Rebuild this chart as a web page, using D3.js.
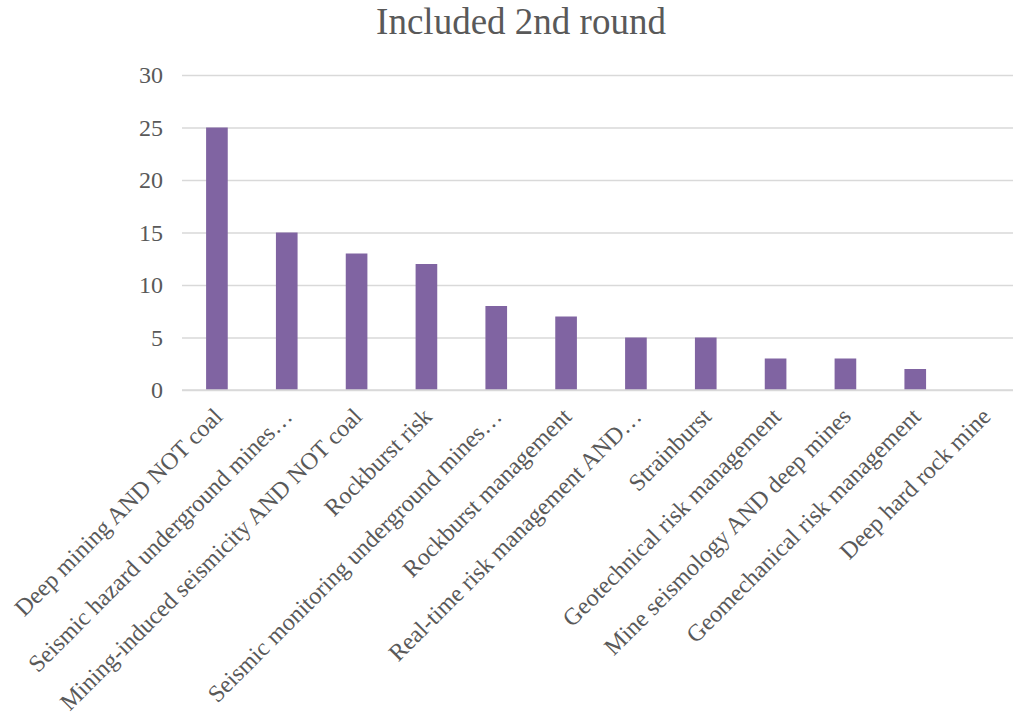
<!DOCTYPE html>
<html><head><meta charset="utf-8">
<script src="https://cdn.jsdelivr.net/npm/d3@7"></script>
<style>html,body{margin:0;padding:0;background:#fff;overflow:hidden}</style>
</head><body>
<svg id="chart" width="1013" height="715"></svg>
<script>
const categories = ["Deep mining AND NOT coal","Seismic hazard underground mines\u2026","Mining-induced seismicity AND NOT coal","Rockburst risk","Seismic monitoring underground mines\u2026","Rockburst management","Real-time risk management AND\u2026","Strainburst","Geotechnical risk management","Mine seismology AND deep mines","Geomechanical risk management","Deep hard rock mine"];
const values = [25,15,13,12,8,7,5,5,3,3,2,0];
const yTicks = [0,5,10,15,20,25,30];
const title = "Included 2nd round";

const svg = d3.select("#chart");
const font = "'Liberation Serif','Times New Roman',serif";
const textColor = "#595959";
const plotLeft = 182, plotRight = 1020, plotTop = 75, plotBottom = 390;

const x = d3.scaleBand().domain(categories).range([plotLeft, plotRight]).paddingInner(0.69).paddingOuter(0.345);
const y = d3.scaleLinear().domain([0, 30]).range([plotBottom, plotTop]);

svg.append("text").attr("x", 521).attr("y", 34).attr("text-anchor","middle")
  .attr("font-family", font).attr("font-size", 37).attr("fill", textColor).text(title);

const yAxis = d3.axisLeft(y).tickValues(yTicks).tickSize(-(1013-plotLeft)).tickPadding(19);
const ga = svg.append("g").attr("transform", `translate(${plotLeft},0)`).call(yAxis);
ga.select(".domain").remove();
ga.selectAll(".tick line").attr("stroke", "#d9d9d9").attr("stroke-width", 1.3);
ga.selectAll(".tick text").attr("font-family", font).attr("font-size", 24).attr("fill", textColor);

svg.append("g").selectAll("rect").data(values).join("rect")
  .attr("x", (d,i) => x(categories[i])).attr("width", x.bandwidth())
  .attr("y", d => y(d)).attr("height", d => y(0) - y(d)).attr("fill", "#8064A2");

svg.append("line").attr("x1", plotLeft).attr("x2", 1013).attr("y1", y(0)).attr("y2", y(0))
  .attr("stroke", "#d9d9d9").attr("stroke-width", 1.5);

svg.append("g").selectAll("text").data(categories).join("text")
  .attr("transform", d => `translate(${x(d) + x.bandwidth()/2 + 1},${plotBottom + 22}) rotate(-45)`)
  .attr("text-anchor", "end").attr("dy", "0.35em")
  .attr("font-family", font).attr("font-size", 24).attr("fill", textColor).text(d => d);
</script>
</body></html>
